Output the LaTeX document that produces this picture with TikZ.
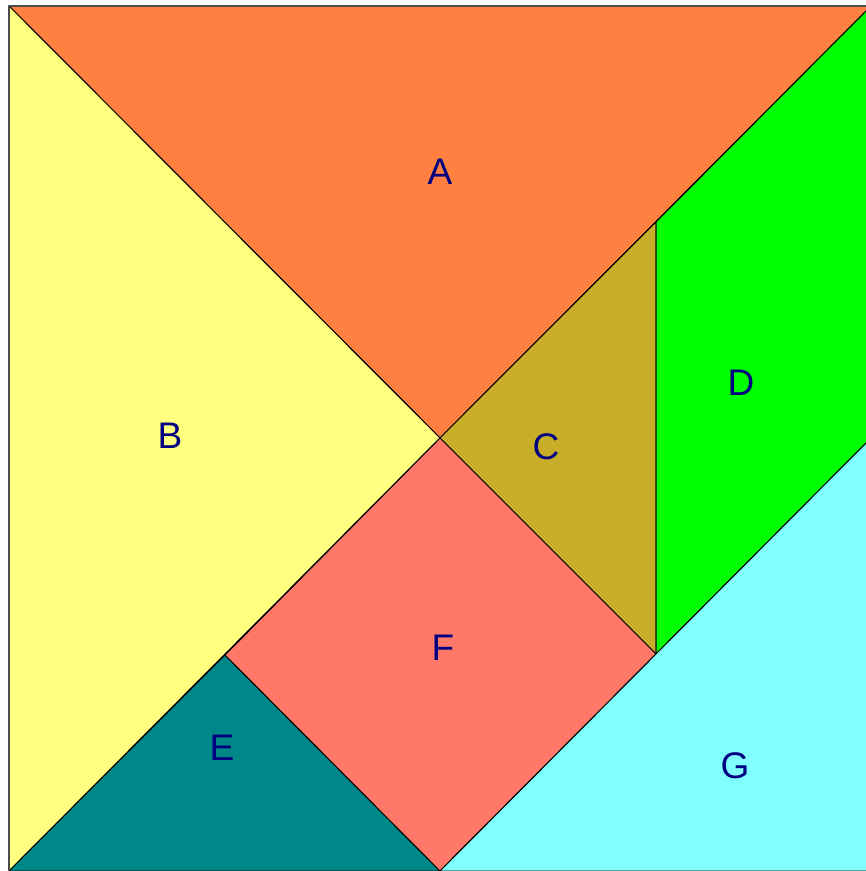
\documentclass[tikz,border=0pt]{standalone}
\usepackage{fontspec}
\setmainfont{Liberation Sans}
\definecolor{cA}{HTML}{FF8040}
\definecolor{cB}{HTML}{FFFF80}
\definecolor{cC}{HTML}{C8AE28}
\definecolor{cD}{HTML}{00FF00}
\definecolor{cE}{HTML}{008888}
\definecolor{cF}{HTML}{FF7868}
\definecolor{cG}{HTML}{80FFFF}
\definecolor{lab}{HTML}{000080}
\begin{document}
\begin{tikzpicture}[x=1pt,y=-1pt,
  piece/.style={draw=black,line width=1pt,line join=miter},
  lbl/.style={text=lab,font=\fontsize{37}{37}\selectfont,inner sep=0pt}]
\useasboundingbox (0,0) rectangle (866,871);
\clip (0,0) rectangle (866,871);
\fill[white] (0,0) rectangle (866,871);
\coordinate (TL) at (9,6);
\coordinate (TR) at (871,6);
\coordinate (BL) at (9,871);
\coordinate (BR) at (871,871);
\coordinate (O) at (440,438);
\coordinate (P) at (656,222);
\coordinate (Q) at (656,654);
\coordinate (R) at (871,438);
\coordinate (S) at (225,655);
\coordinate (T) at (440,871);
\filldraw[piece,fill=cA] (TL) -- (TR) -- (O) -- cycle;
\filldraw[piece,fill=cB] (TL) -- (O) -- (BL) -- cycle;
\filldraw[piece,fill=cC] (O) -- (P) -- (Q) -- cycle;
\filldraw[piece,fill=cD] (P) -- (TR) -- (R) -- (Q) -- cycle;
\filldraw[piece,fill=cE] (BL) -- (S) -- (T) -- cycle;
\filldraw[piece,fill=cF] (O) -- (Q) -- (T) -- (S) -- cycle;
\filldraw[piece,fill=cG] (T) -- (R) -- (BR) -- cycle;
\draw[line width=1.5pt,draw=black!70] (TL) -- (TR) (TL) -- (BL);
\node[lbl] (la) at (440,172) {A};
\node[lbl] (lb) at (170,436) {B};
\node[lbl] (lc) at (546,447) {C};
\node[lbl] (ld) at (741,383) {D};
\node[lbl] (le) at (222,748) {E};
\node[lbl] (lf) at (443,648) {F};
\node[lbl] (lg) at (735,766) {G};
\end{tikzpicture}
\end{document}
